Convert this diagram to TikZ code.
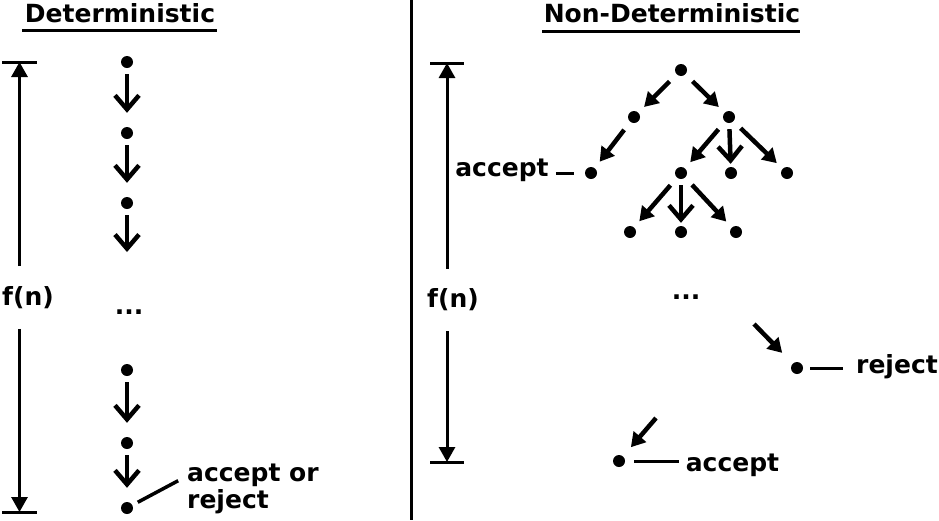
\documentclass[tikz,border=0pt]{standalone}
\usepackage{fontspec}
\setmainfont{DejaVu Sans}
\usepackage{tikz}
\usetikzlibrary{arrows.meta}

\begin{document}
\begin{tikzpicture}[x=1pt,y=-1pt,
	every node/.style={font=\fontsize{25}{27}\selectfont\bfseries, inner sep=0pt},
	state/.style={circle, fill, minimum size=12pt, inner sep=0pt},
	chain/.style={-{Straight Barb[length=14pt,width=24pt]}, line width=4.5pt, shorten <=6pt},
	branch/.style={-{Triangle[length=14pt,width=16pt]}, line width=4.5pt, shorten <=10pt, shorten >=8pt},
	bound/.style={-{Triangle[length=15pt,width=16pt]}, line width=3pt, shorten <=20pt},
	bar/.style={line width=3pt}]
\useasboundingbox (0,0) rectangle (939,520);
\draw[bar] (411,0) -- (411,520);

\node (det) at (120,13) {Deterministic};
\draw[line width=3pt] (22,30) -- (217,30);
\coordinate (ltop) at (19.5,62);
\coordinate (lbot) at (19.5,512);
\node (fl) at (28,297.5) {f(n)};
\draw[bar] ([xshift=-17.5pt]ltop) -- ([xshift=17.5pt]ltop);
\draw[bar] ([xshift=-17.5pt]lbot) -- ([xshift=17.5pt]lbot);
\path[bound] (fl.north -| ltop) edge (ltop)
	(fl.south -| lbot) edge (lbot);

\node[state] (d1) at (127,62) {};
\node[state] (d2) at (127,133) {};
\node[state] (d3) at (127,203) {};
\coordinate (d3end) at (127,252);
\node (ldots) at (129,312) {...};
\node[state] (d4) at (127,370) {};
\node[state] (d5) at (127,443) {};
\node[state] (d6) at (127,508) {};
\path[chain, shorten >=14pt] (d1) edge (d2)
	(d2) edge (d3)
	(d4) edge (d5)
	(d5) edge (d6);
\path[chain] (d3) edge (d3end);
\node[align=left, anchor=west] (lres) at (187,488.5) {accept or\\reject};
\draw[line width=3.5pt, shorten <=6pt, shorten >=10pt] (d6) -- ([yshift=12.5pt]lres.west);

\node (ndet) at (672,13) {Non-Deterministic};
\draw[line width=3pt] (542,31) -- (800,31);
\coordinate (rtop) at (447,63);
\coordinate (rbot) at (447,462);
\node (fr) at (453,300) {f(n)};
\draw[bar] ([xshift=-17pt]rtop) -- ([xshift=17pt]rtop);
\draw[bar] ([xshift=-17pt]rbot) -- ([xshift=17pt]rbot);
\path[bound] (fr.north -| rtop) edge (rtop)
	(fr.south -| rbot) edge (rbot);

\node[state] (r) at (681,70) {};
\node[state] (a1) at (634,117) {};
\node[state] (a2) at (729,117) {};
\node[state] (b1) at (591,173) {};
\node[state] (b2) at (681,173) {};
\node[state] (b3) at (731,173) {};
\node[state] (b4) at (787,173) {};
\node[state] (c1) at (630,232) {};
\node[state] (c2) at (681,232) {};
\node[state] (c3) at (736,232) {};
\path[branch] (r) edge (a1)
	edge (a2)
	(a1) edge (b1)
	(a2) edge (b2)
	edge (b4)
	(b2) edge (c1)
	edge (c3);
\path[chain, shorten >=3pt] (a2) edge (b3)
	(b2) edge (c2);
\node (acc1) at (502,170) {accept};
\draw[bar, shorten <=7pt, shorten >=11pt] (acc1.east |- b1) -- (b1);

\node (rdots) at (686,297) {...};
\coordinate (rjfrom) at (754,324);
\node[state] (rj) at (797,368) {};
\node (rjlab) at (897,367) {reject};
\path[branch, shorten <=0pt, shorten >=15pt] (rjfrom) edge (rj);
\draw[bar, shorten <=7pt, shorten >=13pt] (rj) -- (rjlab.west |- rj);

\coordinate (acfrom) at (656,418);
\node[state] (ac) at (619,461) {};
\node (aclab) at (732.5,465) {accept};
\path[branch, shorten <=0pt, shorten >=12pt] (acfrom) edge (ac);
\draw[bar, shorten <=9pt, shorten >=7pt] (ac) -- (aclab.west |- ac);
\end{tikzpicture}
\end{document}
